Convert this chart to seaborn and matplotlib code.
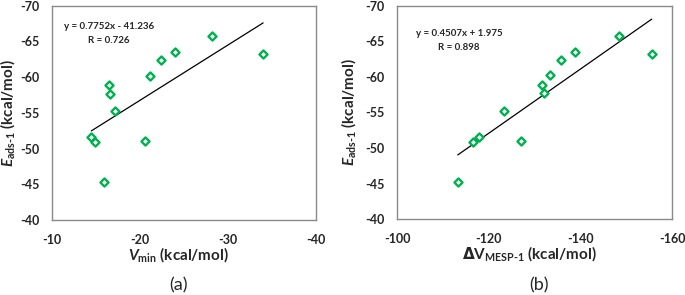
import matplotlib
matplotlib.use("Agg")
import matplotlib.pyplot as plt
import seaborn as sns
import numpy as np
import pandas as pd

# ---- data ----
E_ads = [-65.7, -63.2, -63.5, -62.4, -60.2, -58.9, -57.7, -55.2, -51.6, -50.9, -51.0, -45.3]
V_min = [-28.2, -34.0, -24.0, -22.4, -21.2, -16.5, -16.6, -17.2, -14.5, -14.9, -20.6, -15.9]
dV_mesp = [-148.4, -155.5, -138.8, -135.8, -133.4, -131.5, -131.9, -123.3, -117.8, -116.6, -126.9, -113.2]
fit_a = (0.7752, -41.236)
fit_b = (0.4507, 1.975)
eq_a = ["y = 0.7752x - 41.236", "R = 0.726"]
eq_b = ["y = 0.4507x + 1.975", "R = 0.898"]
xticks_a = [-10, -20, -30, -40]
xticks_b = [-100, -120, -140, -160]
yticks = [-40, -45, -50, -55, -60, -65, -70]
captions = ["(a)", "(b)"]

sns.set_theme(style="white")
plt.rcParams['font.family'] = ['Lato', 'DejaVu Sans']
plt.rcParams['mathtext.fontset'] = 'custom'
plt.rcParams['mathtext.rm'] = 'DejaVu Sans:bold'
plt.rcParams['mathtext.it'] = 'Lato:italic:bold'
plt.rcParams['mathtext.bf'] = 'Lato:bold'
plt.rcParams['mathtext.sf'] = 'DejaVu Sans:bold'

GREEN = '#00B050'
fig = plt.figure(figsize=(6.85, 2.95), dpi=100)
ax_a = fig.add_axes([0.0755, 0.2542, 0.3858, 0.7265])
ax_b = fig.add_axes([0.5800, 0.2566, 0.4015, 0.7241])

df_a = pd.DataFrame({"x": V_min, "y": E_ads})
df_b = pd.DataFrame({"x": dV_mesp, "y": E_ads})

panels = [
    (ax_a, df_a, fit_a, eq_a, xticks_a, (-10, -40), (0.216, 0.903, 0.836),
     r"$E_{\mathbf{ads‐1}}$ (kcal/mol)", r"$V_{\mathbf{min}}$ (kcal/mol)", captions[0], 0.261,
     -0.13),
    (ax_b, df_b, fit_b, eq_b, xticks_b, (-100, -160), (0.224, 0.8675, 0.805),
     r"$E_{\mathbf{ads‐1}}$ (kcal/mol)", r"$\mathrm{\Delta}\mathbf{V}_{\mathbf{MESP‐1}}$ (kcal/mol)", captions[1], 0.787,
     -0.142),
]

for ax, df, fit, eq, xt, xl, tpos, ylab, xlab, cap, capx, ylx in panels:
    sns.scatterplot(data=df, x="x", y="y", ax=ax, marker='D', s=17,
                    facecolor='white', edgecolor=GREEN, linewidth=1.7, zorder=3)
    xs = np.array([df.x.max(), df.x.min()])
    line = pd.DataFrame({"x": xs, "y": fit[0] * xs + fit[1]})
    sns.lineplot(data=line, x="x", y="y", ax=ax, color='black', linewidth=0.9, zorder=2)
    ax.set_xlim(*xl)
    ax.set_ylim(-40, -70)
    ax.set_xticks(xt)
    ax.set_yticks(yticks)
    ax.set_xticklabels([str(v) for v in xt], fontweight='bold', fontsize=9)
    ax.set_yticklabels([str(v) for v in yticks], fontweight='bold', fontsize=9)
    ax.tick_params(axis='x', length=0, pad=10)
    ax.tick_params(axis='y', length=0, pad=9)
    for sp in ax.spines.values():
        sp.set_color('#8a8a8a')
        sp.set_linewidth(1.0)
    ax.set_xlabel(xlab, fontsize=11, fontweight='bold')
    ax.set_ylabel(ylab, fontsize=11, fontweight='bold')
    ax.xaxis.set_label_coords(0.48, -0.115)
    ax.yaxis.set_label_coords(ylx, 0.5)
    ax.text(tpos[0], tpos[1], eq[0], transform=ax.transAxes, ha='center', va='center',
            fontsize=7, fontweight='bold')
    ax.text(tpos[0], tpos[2], eq[1], transform=ax.transAxes, ha='center', va='center',
            fontsize=7, fontweight='bold')
    fig.text(capx, 0.033, cap, ha='center', va='center', fontsize=13)

fig.savefig("out.png", dpi=100)
